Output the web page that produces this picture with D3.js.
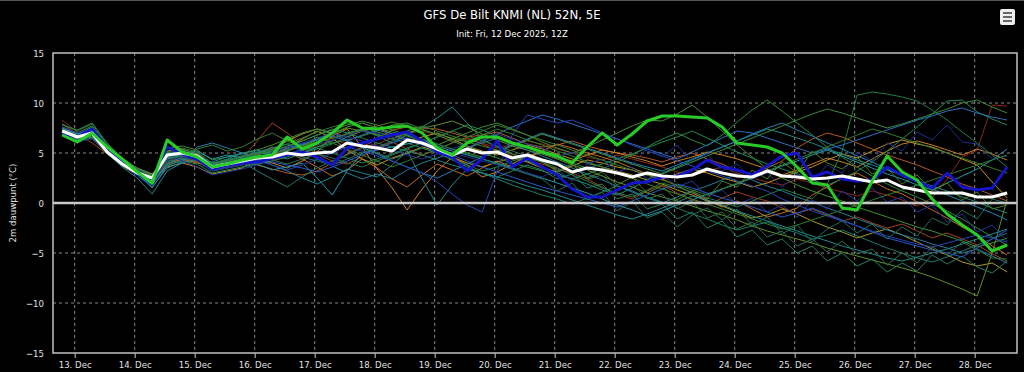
<!DOCTYPE html>
<html lang="en">
<head>
<meta charset="UTF-8">
<title>GFS De Bilt dauwpunt pluim</title>
<script src="https://d3js.org/d3.v7.min.js"></script>
<style>
    body { margin: 0; background: #000; }
    #chart text { font-family: "Liberation Sans Narrow", "DejaVu Sans Condensed", "Liberation Sans", sans-serif; }
</style>
</head>
<body>
<div id="chart"></div>
<script>
// forecast steps: lead time in hours from the 12Z init, every 6 h
const leadHours = d3.range(6, 385, 6);
const initTime = Date.UTC(2025, 11, 12, 12);
const tzOffset = 1; // axis shown in CET

const yTicks = [-15, -10, -5, 0, 5, 10, 15];

// ensemble mean (white)
const meanSeries = [
    7.2, 6.6, 7.0, 5.1, 3.9, 3.0, 2.5, 4.8,
    5.0, 4.7, 3.6, 3.9, 4.2, 4.5, 4.6, 5.0,
    4.8, 5.0, 5.1, 6.0, 5.7, 5.5, 5.2, 6.3,
    6.0, 5.4, 4.8, 5.4, 5.0, 5.1, 4.5, 4.8,
    4.3, 3.9, 3.1, 3.5, 3.3, 3.0, 2.6, 3.0,
    2.7, 2.6, 2.8, 3.4, 3.0, 2.7, 2.6, 3.2,
    2.7, 2.6, 2.4, 2.5, 2.7, 2.4, 2.1, 2.3,
    1.6, 1.3, 1.0, 1.0, 1.0, 0.6, 0.6, 1.0];

// operational run (green)
const operSeries = [
    6.8, 6.1, 7.0, 5.6, 4.4, 3.1, 2.0, 6.3,
    5.1, 4.6, 3.6, 3.9, 4.3, 4.6, 4.8, 6.6,
    5.4, 6.0, 7.0, 8.3, 7.5, 7.4, 7.6, 7.7,
    7.0, 5.5, 4.8, 6.0, 6.6, 6.6, 6.0, 5.6,
    5.1, 4.7, 4.0, 5.6, 7.0, 5.8, 6.9, 8.2,
    8.7, 8.7, 8.6, 8.5, 7.6, 6.0, 5.8, 5.6,
    5.0, 3.6, 2.0, 1.8, -0.5, -0.7, 2.2, 4.7,
    3.1, 2.3, 0.4, -1.1, -2.2, -3.2, -4.8, -4.2];

// control run (blue)
const ctrlSeries = [
    7.0, 6.6, 7.4, 5.5, 4.0, 2.9, 2.3, 5.6,
    4.9, 4.4, 3.4, 3.8, 4.0, 4.1, 4.5, 4.8,
    5.1, 4.6, 3.8, 5.5, 6.0, 6.4, 6.8, 7.1,
    6.2, 5.1, 4.6, 3.2, 4.4, 6.2, 3.6, 4.5,
    3.6, 2.8, 1.4, 0.6, 0.6, 1.3, 2.0, 2.1,
    2.6, 2.7, 3.3, 4.3, 3.6, 3.3, 2.8, 3.7,
    4.7, 5.0, 2.6, 3.1, 2.4, 2.2, 2.3, 3.6,
    2.8, 2.2, 1.5, 3.0, 1.6, 1.3, 1.5, 3.6];

// ensemble members (thin lines)
const member01 = [8.3,7.1,6.4,5.0,3.9,3.3,2.9,4.4, 4.5,4.2,3.9,4.1,4.5,4.8,4.3,4.6, 5.2,5.8,6.3,6.0,5.6,5.9,6.5,7.0, 7.2,6.8,6.1,6.4,6.0,5.5,5.8,6.2, 5.9,5.4,5.0,4.6,4.3,4.8,4.4,4.0, 3.6,3.1,2.7,3.2,3.6,3.0,2.5,2.1, 1.8,2.4,2.0,1.5,1.1,0.7,1.2,0.8, 0.3,-0.3,0.5,2.4,4.6,5.3,9.8,9.7];
const member02 = [7.9,6.9,6.0,4.9,3.8,3.2,2.2,4.0, 4.3,4.1,3.3,3.6,4.4,6.2,8.0,7.0, 5.8,4.9,4.2,3.9,4.6,5.5,6.1,5.4, 4.8,5.3,6.0,6.5,5.9,5.2,4.7,4.2, 3.9,3.4,3.0,2.4,1.6,0.9,0.4,1.2, 1.8,1.0,0.3,-0.2,0.5,1.1,0.6,0.2, -0.5,-1.0,-0.6,-1.2,-1.8,-1.4,-2.0,-2.5, -2.1,-2.8,-3.5,-3.0,-3.6,-4.2,-5.1,-5.8];
const member03 = [7.6,6.8,6.6,5.2,3.9,3.0,2.4,4.3, 4.6,4.3,3.5,3.7,4.0,3.8,3.4,3.0, 2.8,3.2,4.0,4.9,5.6,6.4,7.3,7.6, 7.5,7.4,7.0,6.6,6.8,7.1,6.5,5.9, 5.6,5.8,6.2,5.7,5.3,5.0,4.8,4.5, 4.1,4.6,5.0,4.4,3.9,3.2,2.8,3.5, 4.2,5.5,6.4,7.0,6.6,6.0,5.4,4.8, 4.3,3.8,3.2,2.6,1.9,1.4,0.8,0.2];
const member04 = [7.0,6.5,6.8,5.4,4.1,3.3,2.0,3.9, 4.4,4.0,3.7,3.9,4.3,4.9,5.6,5.1, 4.4,3.6,2.7,3.3,4.4,3.5,2.4,1.6, 2.8,3.9,3.3,2.7,3.5,4.2,3.6,4.4, 5.2,5.9,5.5,5.0,4.6,4.1,3.5,2.9, 2.4,1.7,1.0,0.3,-0.4,0.2,-0.6,-1.4, -1.0,-0.5,0.8,1.6,2.5,3.0,2.2,1.4, 0.9,0.1,-0.7,-1.5,-2.4,-3.2,-4.3,-5.2];
const member05 = [7.5,6.7,7.3,5.5,4.2,3.4,2.7,5.2, 5.4,4.9,3.9,4.0,4.2,4.4,4.0,3.5, 4.2,5.1,6.7,7.4,5.6,3.4,1.5,-0.7, 1.4,3.2,4.6,3.8,2.6,3.1,3.9,4.7, 5.1,4.6,4.2,4.8,5.3,5.0,4.6,4.2, 3.7,4.2,4.6,5.1,4.8,4.4,3.9,3.4, 2.8,3.3,3.9,4.5,4.1,3.6,4.4,5.2, 5.9,6.2,5.8,5.3,4.8,5.4,4.9,4.3];
const member06 = [7.1,6.3,6.9,5.2,3.7,2.8,2.1,3.6, 4.0,3.6,2.9,3.2,3.5,4.4,4.8,5.5, 6.4,7.2,6.5,5.3,4.4,3.8,4.5,5.0, 5.6,5.2,4.6,4.0,3.6,4.1,4.5,4.1, 3.5,3.1,3.7,4.3,4.0,3.6,3.3,2.8, 2.4,2.9,3.4,3.0,2.5,2.1,1.6,2.0, 2.6,3.1,3.6,4.3,4.9,4.5,5.2,5.9, 6.3,5.9,5.6,5.0,4.4,3.8,2.1,0.5];
const member07 = [7.4,6.9,7.2,5.6,4.3,3.5,2.9,4.7, 4.9,4.5,3.8,4.2,4.7,5.0,5.3,6.2, 6.9,7.4,7.0,6.6,7.2,7.5,6.9,6.2, 6.6,7.0,6.4,5.7,5.2,4.8,5.3,5.8, 5.4,4.9,4.4,4.0,3.6,3.2,2.8,2.3, 1.9,1.3,0.8,0.2,-0.3,-0.9,-1.5,-1.2, -0.6,-1.1,-1.8,-2.4,-2.9,-3.5,-3.0,-2.6, -3.2,-3.9,-4.6,-5.2,-5.9,-6.3,-6.0,-6.9];
const member08 = [7.0,6.4,6.7,5.1,3.8,2.9,2.3,4.5, 4.7,4.6,3.6,3.8,4.1,4.3,4.7,5.2, 5.7,6.3,6.9,7.5,7.2,6.8,6.4,7.0, 7.5,7.8,8.2,7.6,6.9,6.3,5.7,5.3, 4.9,4.4,3.8,3.3,2.7,2.1,1.6,1.0, 0.6,0.2,-0.3,-0.8,-1.2,-1.7,-2.3,-2.8, -3.2,-3.6,-4.0,-4.5,-4.9,-5.3,-5.7,-6.1, -6.5,-6.9,-7.4,-8.0,-8.6,-9.3,-5.0,0.4];
const member09 = [7.6,7.0,7.7,5.8,4.4,3.3,2.6,5.5, 5.7,5.3,4.3,4.6,4.9,5.3,5.8,6.4, 7.0,7.4,6.9,7.6,8.0,7.5,7.1,6.7, 6.2,5.8,6.4,7.0,7.6,8.0,7.4,6.8, 6.1,5.5,5.0,5.6,6.3,7.0,7.7,8.3, 8.2,8.9,9.8,8.6,7.2,5.8,4.6,3.4, 2.5,1.8,1.2,0.7,0.2,-0.4,-0.9,-1.4, -1.9,-2.4,-2.8,-3.3,-3.8,-4.4,-4.0,-3.5];
const member10 = [7.3,6.5,6.9,5.3,4.1,3.2,2.5,4.6, 4.8,4.6,3.5,3.7,4.0,4.2,4.5,4.9, 5.3,5.6,6.0,6.3,6.7,7.2,7.8,8.0, 7.4,6.8,6.2,5.6,5.0,4.5,4.0,3.6, 3.2,2.8,2.4,2.9,3.4,4.1,4.8,5.6, 6.4,7.0,6.3,5.7,6.8,8.1,9.3,10.3, 9.2,8.0,6.8,5.6,4.6,3.6,2.7,1.9, 1.2,0.6,-0.1,-0.8,-1.6,-2.5,-3.4,-4.2];
const member11 = [6.8,6.2,6.5,4.9,3.7,2.9,2.4,4.2, 4.4,4.2,3.2,3.5,3.8,4.0,4.4,4.8, 5.0,5.4,5.9,6.6,7.3,6.9,6.4,6.0, 5.5,5.0,4.4,3.8,3.2,3.6,4.2,4.6, 4.1,3.5,2.8,2.2,1.5,1.0,0.6,1.3, 2.0,1.6,1.1,0.5,0.1,-0.4,0.2,0.8, 1.4,0.9,0.4,1.9,5.2,10.8,11.1,10.9, 10.6,10.2,9.3,8.3,7.1,6.0,4.8,3.6];
const member12 = [7.2,6.8,7.4,5.6,4.2,3.0,1.9,3.8, 4.2,3.9,3.0,3.3,3.6,3.9,4.2,4.6, 5.1,5.5,5.0,4.5,4.0,4.4,4.9,5.5, 6.0,6.6,7.2,7.8,7.3,6.7,6.1,5.6, 5.0,4.5,4.0,3.5,3.9,4.4,4.9,5.5, 6.1,6.6,7.2,6.5,5.8,5.1,4.5,3.9, 3.4,2.9,2.3,1.8,2.4,3.2,4.1,5.2, 6.4,7.6,8.9,10.2,10.3,9.1,8.4,7.8];
const member13 = [7.8,7.3,8.0,6.0,4.5,3.5,2.8,5.0, 5.3,5.0,3.9,4.2,4.6,4.9,5.1,5.6, 6.2,6.8,7.4,7.0,6.5,6.0,5.6,5.2, 4.8,4.3,3.8,3.4,3.0,2.6,3.2,3.8, 3.3,2.4,2.9,1.5,1.9,0.4,0.9,-0.6, -0.1,-1.6,-0.9,-2.5,-1.8,-3.4,-2.7,-4.2, -3.6,-5.0,-4.3,-5.8,-5.0,-6.3,-5.6,-6.9, -6.0,-6.8,-5.2,-6.1,-5.3,-6.4,-7.0,-5.8];
const member14 = [7.0,6.6,7.1,5.4,4.0,3.1,2.3,4.1, 4.5,4.4,3.7,3.9,4.1,3.2,2.4,1.6, 2.6,3.5,4.2,4.8,5.5,5.0,4.4,4.9, 5.5,5.0,4.3,3.6,3.0,2.4,1.8,1.3, 0.8,0.4,-0.1,0.5,1.1,1.7,1.2,0.6, 0.1,-0.5,-1.1,-1.6,-2.2,-2.7,-2.3,-1.9, -2.5,-3.0,-3.6,-3.2,-2.7,-3.3,-3.9,-4.5, -5.0,-5.5,-5.9,-5.4,-4.8,-4.2,-3.6,-3.0];
const member15 = [7.3,6.8,7.6,5.6,4.1,3.0,1.5,3.7, 4.3,4.6,3.9,4.4,5.0,5.3,4.8,4.4, 5.0,5.6,6.2,7.0,7.4,6.7,6.0,6.8, 7.6,8.5,9.6,8.0,6.4,5.6,4.9,4.2, 3.6,3.0,2.4,1.9,1.3,0.8,1.5,2.3, 3.0,3.6,4.3,5.0,5.6,6.2,6.8,7.4, 7.0,6.5,6.0,5.4,4.9,4.3,3.8,3.3, 2.8,2.2,1.7,1.2,0.6,0.1,-0.5,-1.0];
const member16 = [7.1,6.3,6.6,5.0,3.6,2.5,0.9,3.2, 4.0,4.4,4.1,4.6,5.0,4.5,3.8,3.2, 2.5,1.9,2.6,3.4,3.0,2.6,3.8,5.2, 2.4,-0.2,1.8,3.4,3.0,2.6,2.2,1.7, 1.3,0.8,0.3,-0.2,-0.7,-1.2,-1.6,-1.1, -0.5,0.1,0.7,0.3,-0.2,-0.8,-1.3,-1.8, -2.3,-2.8,-3.3,-3.8,-4.3,-4.7,-5.1,-5.5, -5.8,-5.4,-5.0,-4.6,-4.1,-3.6,-3.1,-2.6];
const member17 = [7.5,6.9,7.3,5.5,4.2,3.2,2.4,4.5, 4.9,5.2,4.4,4.8,4.5,3.9,3.3,3.6, 4.0,2.5,0.8,3.2,5.0,5.3,5.6,5.9, 6.2,5.7,5.2,4.8,4.4,4.0,3.5,3.0, 2.5,2.0,1.5,1.0,0.4,-0.2,-0.7,-1.3, -0.8,-0.2,0.3,0.9,1.4,1.9,2.5,3.1, 3.7,4.2,4.8,5.3,4.7,4.1,3.5,2.9, 2.4,1.8,1.3,2.0,2.7,3.4,4.3,5.4];
const member18 = [6.9,6.4,7.0,5.2,3.9,2.9,1.8,3.9, 4.6,4.8,4.0,4.3,4.7,5.1,5.5,5.9, 5.2,4.4,3.7,3.0,2.4,2.9,2.4,3.3, 4.0,4.5,5.0,5.5,6.0,6.5,5.9,5.3, 4.7,4.1,3.5,2.9,2.3,1.7,1.1,0.5, 0.0,0.6,1.2,1.7,2.3,2.9,2.3,1.7, 1.2,0.6,0.1,-0.5,-1.0,-1.6,-2.1,-2.7, -3.2,-3.6,-4.1,-4.5,-5.0,-4.6,-5.3,-6.0];
const member19 = [7.2,6.6,6.8,5.3,3.9,2.8,1.6,3.5, 4.1,5.6,6.0,5.5,5.0,4.4,4.6,5.2, 5.8,6.4,7.0,6.3,5.6,4.9,4.2,3.6, 3.0,2.5,3.2,3.9,4.6,5.2,5.8,6.4, 7.0,6.5,6.0,5.5,5.0,4.5,4.0,3.6, 3.2,3.8,4.4,5.0,5.6,6.2,6.9,7.5, 8.0,7.3,6.7,6.0,5.4,4.7,4.1,3.4, 2.7,2.1,1.4,0.8,0.2,-0.4,-1.0,-1.7];
const member20 = [7.4,6.8,7.5,5.6,4.1,3.0,2.2,4.9, 5.2,4.8,3.6,3.8,4.1,4.6,5.0,5.4, 5.9,6.3,6.7,6.2,6.8,7.3,6.9,6.4, 5.8,5.3,4.8,5.5,6.2,6.9,7.6,8.2, 8.8,8.4,7.9,7.4,6.9,6.4,5.9,5.4, 4.9,4.4,5.1,5.8,6.5,7.2,7.0,6.5, 6.0,5.5,5.0,5.4,5.8,6.3,6.8,7.3, 7.8,8.3,8.7,9.2,9.5,9.0,8.6,8.3];
const member21 = [7.0,6.3,6.9,5.2,3.9,2.8,1.8,4.4, 4.8,4.5,3.4,3.7,4.0,4.3,4.1,3.8, 3.5,3.1,3.6,4.2,4.8,5.4,6.0,6.5, 6.0,5.4,4.8,4.2,3.6,3.1,2.6,2.1, 1.6,1.2,0.8,0.4,0.0,-0.4,0.2,0.8, 1.4,1.9,1.5,1.0,0.5,0.1,-0.4,-0.9, -1.4,-1.0,-0.5,-1.1,-1.7,-2.3,-2.9,-3.5, -3.9,-4.3,-4.7,-5.0,-5.4,-4.5,-3.6,-2.7];
const member22 = [7.3,6.7,7.2,5.4,4.0,3.0,2.1,4.6, 5.0,4.4,3.3,3.6,3.9,4.2,3.8,3.3, 3.8,4.4,5.0,5.6,5.2,4.7,4.2,3.6, 3.0,2.1,0.9,-0.2,-0.9,3.2,6.8,8.8, 8.4,8.0,8.3,7.7,7.0,6.4,5.8,5.2, 4.7,4.2,3.7,3.2,2.7,2.2,1.7,1.2, 0.4,-0.2,-0.8,-1.3,-1.8,-2.3,-2.8,-3.3, -3.7,-4.1,-4.4,-4.0,-3.6,-3.2,-3.5,-3.9];
const member23 = [7.6,7.0,7.4,5.7,4.3,3.3,2.6,4.9, 4.2,3.6,2.8,3.1,3.4,3.8,5.1,5.6, 6.0,6.5,7.0,6.6,6.2,5.7,5.3,4.8, 4.4,4.9,5.4,6.0,6.5,6.9,6.4,5.9, 5.5,4.6,5.1,3.9,4.4,3.1,3.6,2.4, 2.9,1.6,2.2,0.7,1.3,-0.2,0.5,-0.9, -0.2,-1.4,0.3,-0.6,1.2,0.2,1.5,0.1, 0.6,-0.9,-0.2,-1.9,-1.1,-2.9,-2.2,-3.8];
const member24 = [6.7,6.1,6.4,5.0,3.8,2.9,2.3,4.3, 4.6,4.3,3.2,3.5,3.8,4.1,4.5,4.9, 5.4,5.9,6.3,6.8,7.2,7.0,6.6,6.2, 5.8,5.4,5.0,4.6,4.2,3.8,3.4,3.0, 2.6,3.4,2.2,3.9,3.1,4.6,3.8,5.5, 4.6,5.8,4.1,4.9,3.2,3.9,2.4,3.0, 1.6,2.9,2.1,3.8,3.0,5.1,4.2,6.0, 5.2,7.1,6.3,7.8,6.1,5.9,4.4,4.7];
const member25 = [7.9,7.2,7.9,5.9,4.4,3.4,2.7,5.1, 5.5,5.1,4.0,4.3,4.7,5.0,5.4,5.9, 6.5,7.1,7.6,8.0,7.6,7.1,6.7,7.2, 7.7,7.2,6.7,6.2,6.8,7.4,6.9,6.3, 5.8,5.2,4.7,4.1,3.6,3.0,2.5,1.9, 1.4,0.9,0.4,-0.1,-0.6,-1.1,-1.6,-2.1, -2.6,-2.2,-1.7,-1.2,-0.7,-0.2,0.3,0.8, 1.3,1.8,2.3,2.8,3.3,3.8,4.3,4.8];
const member26 = [7.1,6.5,7.1,5.3,3.9,3.0,2.5,4.7, 4.9,4.7,3.7,4.0,4.4,4.8,5.2,5.7, 6.2,6.8,7.3,7.8,8.2,7.8,7.3,6.8, 6.3,5.9,5.4,5.0,4.6,5.1,5.7,6.3, 6.9,6.4,5.9,5.4,4.9,4.4,3.9,3.4, 2.9,3.5,4.1,4.7,5.3,5.9,6.5,7.1, 7.7,8.3,8.9,9.4,9.0,8.5,8.0,7.5, 7.9,8.4,8.9,9.4,10.0,10.3,9.6,9.0];
const member27 = [7.4,6.6,7.0,5.4,4.1,3.1,2.5,4.8, 5.0,4.8,3.7,3.9,4.3,4.7,4.3,3.9, 4.4,4.9,4.5,4.0,3.6,4.2,4.8,5.4, 6.0,6.6,7.2,6.7,6.2,5.7,5.2,4.7, 4.2,3.1,3.9,2.4,2.8,1.2,1.9,0.4, 0.9,-0.6,0.2,-1.5,-0.9,-2.6,-1.9,-3.4, -2.8,-4.3,-3.6,-4.9,-3.8,-5.1,-4.6,-6.2, -5.0,-6.0,-4.4,-5.2,-3.9,-4.7,-5.5,-5.6];
const member28 = [7.0,6.4,6.8,5.2,3.9,3.0,2.4,4.4, 4.7,5.4,5.8,5.2,5.6,6.4,7.0,6.2, 5.6,6.6,6.0,5.4,4.8,4.2,3.6,4.2, 4.8,5.4,6.0,6.6,7.2,7.8,7.3,6.8, 6.3,5.8,5.3,4.8,4.3,3.8,3.3,2.8, 2.3,1.8,1.3,0.8,1.4,2.0,2.6,3.2, 3.8,4.4,5.0,5.6,6.2,6.8,7.4,7.0, 6.5,6.0,5.5,5.0,4.5,4.0,3.5,3.0];
const member29 = [7.2,6.8,7.3,5.5,4.2,3.2,2.6,4.9, 5.1,4.8,3.8,4.1,4.5,4.9,5.3,5.0, 4.6,4.2,3.8,4.4,5.0,5.6,6.2,6.8, 6.4,5.9,5.4,4.9,4.4,3.9,3.4,2.9, 2.4,1.2,2.0,0.3,1.1,-0.8,0.2,-1.5, -0.9,-2.4,-1.2,-0.5,-1.7,-0.6,-2.2,-1.4, -3.1,-2.2,-3.9,-2.6,-1.8,-3.0,-2.1,-3.6, -2.4,-3.3,-1.5,-2.2,-0.7,-1.6,0.4,0.0];
const member30 = [7.3,6.7,7.1,5.4,4.0,3.1,2.6,4.8, 5.0,4.6,3.6,3.9,4.2,4.5,4.9,5.3, 5.7,6.1,6.5,6.9,7.3,7.7,8.1,7.7, 7.3,6.9,6.5,6.1,5.7,5.3,4.9,4.5, 4.1,3.2,3.9,2.5,3.1,1.8,2.6,1.0, 1.7,0.3,1.2,0.4,2.2,1.6,3.3,2.4, 4.1,3.0,5.2,4.0,3.4,4.6,2.9,3.5, 1.9,2.8,1.2,2.0,0.3,1.1,-0.6,-0.2];

const members = [member01, member02, member03, member04, member05, member06, member07, member08, member09, member10,
    member11, member12, member13, member14, member15, member16, member17, member18, member19, member20,
    member21, member22, member23, member24, member25, member26, member27, member28, member29, member30];

const memberColors = ["#8b2a1a", "#a0401c", "#b5561e", "#c46a22", "#c97f24", "#c4921e", "#a89a22", "#5f8f28", "#3f8f2e", "#2a8a3a",
    "#1f7f45", "#1c8a55", "#20805f", "#1d7a6a", "#1f8a80", "#1d8a92", "#2098a8", "#1e7f9a", "#2480b0", "#2a6fc0",
    "#2858c8", "#2444b8", "#2434a0", "#1c2e8c", "#2e7d32", "#3a8a3a", "#2b6e4a", "#357a2c", "#1f6f5a", "#4a7f20"];

const width = 1024, height = 372;
const margin = { top: 53, right: 7, bottom: 19, left: 53 };
const plotW = width - margin.left - margin.right,
    plotH = height - margin.top - margin.bottom;

const svg = d3.select("#chart")
    .append("svg")
    .attr("width", width)
    .attr("height", height)
    .style("display", "block")
    .style("background", "#000");

// top frame line of the page
svg.append("line")
    .attr("x1", 0).attr("x2", width).attr("y1", 0.5).attr("y2", 0.5)
    .attr("stroke", "#555");

// title + subtitle
svg.append("text")
    .attr("x", width / 2).attr("y", 19)
    .attr("text-anchor", "middle")
    .attr("fill", "#fff")
    .attr("font-size", 13)
    .text("GFS De Bilt KNMI (NL) 52N, 5E");
svg.append("text")
    .attr("x", width / 2).attr("y", 37)
    .attr("text-anchor", "middle")
    .attr("fill", "#fff")
    .attr("font-size", 9.5)
    .text("Init: Fri, 12 Dec 2025, 12Z");

// context menu button
const menu = svg.append("g").attr("transform", "translate(1000,9)");
menu.append("rect").attr("width", 15).attr("height", 16).attr("rx", 2).attr("fill", "#eee");
[4, 8, 12].forEach(d => menu.append("rect")
    .attr("x", 3).attr("y", d - 1).attr("width", 9).attr("height", 2).attr("fill", "#666"));

const timeOf = h => new Date(initTime + (h + tzOffset) * 3600e3);

const x = d3.scaleUtc()
    .domain([Date.UTC(2025, 11, 12, 15, 20), Date.UTC(2025, 11, 28, 16, 56)])
    .range([0, plotW]);
const y = d3.scaleLinear()
    .domain([-15, 15])
    .range([plotH, 0]);

const g = svg.append("g")
    .attr("transform", `translate(${margin.left},${margin.top})`);

const dayTicks = x.ticks(d3.utcDay.every(1));

// grid
g.append("g")
    .selectAll("line")
    .data(dayTicks)
    .join("line")
    .attr("x1", d => x(d)).attr("x2", d => x(d))
    .attr("y1", 0).attr("y2", plotH)
    .attr("stroke", "#8a8a8a")
    .attr("stroke-dasharray", "3,3");
g.append("g")
    .selectAll("line")
    .data(yTicks.filter(v => v !== 0 && Math.abs(v) !== 15))
    .join("line")
    .attr("x1", 0).attr("x2", plotW)
    .attr("y1", d => y(d)).attr("y2", d => y(d))
    .attr("stroke", "#8a8a8a")
    .attr("stroke-dasharray", "3,3");

// x axis
const xAxis = g.append("g")
    .attr("transform", `translate(0,${plotH})`)
    .call(d3.axisBottom(x).tickValues(dayTicks).tickFormat(d3.utcFormat("%-d. %b")).tickSize(5).tickPadding(3));
xAxis.select(".domain").remove();
xAxis.selectAll("line").attr("stroke", "#ccc");
xAxis.selectAll("text").attr("fill", "#e0e0e0").attr("font-size", 9.5);

// y axis
const yAxis = g.append("g")
    .call(d3.axisLeft(y).tickValues(yTicks).tickSize(0).tickPadding(9));
yAxis.select(".domain").remove();
yAxis.selectAll("text").attr("fill", "#e0e0e0").attr("font-size", 9.5);

svg.append("text")
    .attr("transform", `translate(16,${margin.top + y(0)}) rotate(-90)`)
    .attr("text-anchor", "middle")
    .attr("fill", "#e0e0e0")
    .attr("font-size", 9.5)
    .text("2m dauwpunt (°C)");

const line = d3.line()
    .x((d, i) => x(timeOf(leadHours[i])))
    .y(d => y(d));

// members
g.append("g")
    .selectAll("path")
    .data(members)
    .join("path")
    .attr("d", line)
    .attr("fill", "none")
    .attr("stroke", (d, i) => memberColors[i])
    .attr("stroke-width", 1)
    .attr("stroke-linejoin", "round");

// zero line
g.append("line")
    .attr("x1", 0).attr("x2", plotW)
    .attr("y1", y(0)).attr("y2", y(0))
    .attr("stroke", "#c8c8c8")
    .attr("stroke-width", 2.5);

// control, mean, operational
[[ctrlSeries, "#1414c8"], [meanSeries, "#ffffff"], [operSeries, "#27cc27"]].forEach(([s, c]) => {
    g.append("path")
        .datum(s)
        .attr("d", line)
        .attr("fill", "none")
        .attr("stroke", c)
        .attr("stroke-width", 3)
        .attr("stroke-linejoin", "round");
});

// plot frame
g.append("rect")
    .attr("width", plotW).attr("height", plotH)
    .attr("fill", "none")
    .attr("stroke", "#c0c0c0")
    .attr("stroke-width", 1.5);
</script>
</body>
</html>
